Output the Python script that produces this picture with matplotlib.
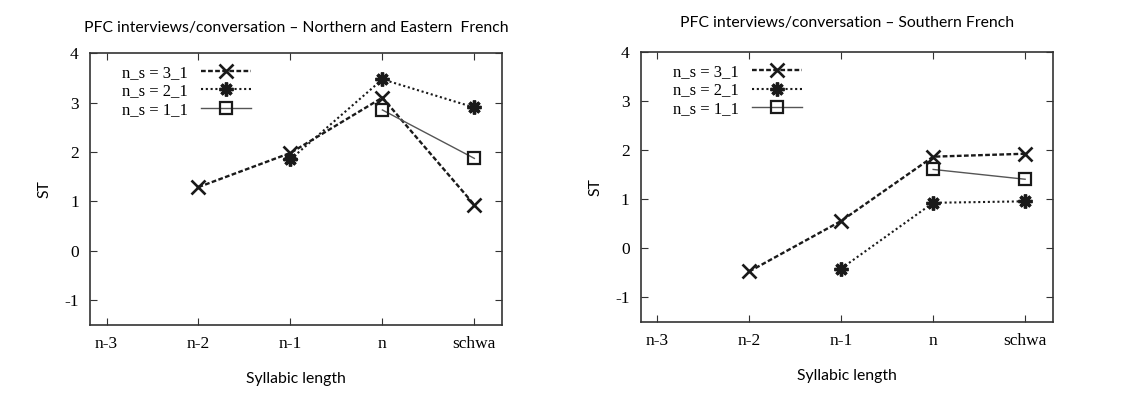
import matplotlib
matplotlib.use("Agg")
import matplotlib.pyplot as plt

# categories on the x axis
syll = ["n-3", "n-2", "n-1", "n", "schwa"]
yticks = [-1, 0, 1, 2, 3, 4]

# Northern and Eastern French
north_31_x = ["n-2", "n-1", "n", "schwa"]
north_31 = [1.29, 1.98, 3.10, 0.93]
north_21_x = ["n-1", "n", "schwa"]
north_21 = [1.85, 3.47, 2.90]
north_11_x = ["n", "schwa"]
north_11 = [2.85, 1.87]

# Southern French
south_31_x = ["n-2", "n-1", "n", "schwa"]
south_31 = [-0.47, 0.56, 1.87, 1.93]
south_21_x = ["n-1", "n", "schwa"]
south_21 = [-0.41, 0.93, 0.96]
south_11_x = ["n", "schwa"]
south_11 = [1.61, 1.41]

titles = ["PFC interviews/conversation \u2013 Northern and Eastern  French",
          "PFC interviews/conversation \u2013 Southern French"]

serif = "Liberation Serif"
sans = "Lato"


def idx(labels):
    return [syll.index(l) for l in labels]


def panel(ax, d31, d21, d11, title, tpad):
    (x31, y31), (x21, y21), (x11, y11) = d31, d21, d11
    ax.plot(idx(x31), y31, color="#1a1a1a", lw=1.7, ls=(0, (2, 1)),
            marker="x", ms=9.5, mew=1.9, label="n_s = 3_1")
    ax.plot(idx(x21), y21, color="#1a1a1a", lw=1.5, ls=(0, (1, 1.3)),
            marker=(8, 2, 0), ms=10, mew=2.4, label="n_s = 2_1")
    ax.plot(idx(x11), y11, color="#555555", lw=1.0, ls="-",
            marker="s", ms=8.5, mew=1.6, mfc="none", mec="#1a1a1a", label="n_s = 1_1")
    ax.set_xlim(-0.18, 4.3)
    ax.set_ylim(-1.5, 4)
    ax.set_xticks(range(len(syll)))
    ax.set_xticklabels(syll, fontfamily=serif, fontsize=12.5)
    ax.set_yticks(yticks)
    ax.set_yticklabels([str(v) for v in yticks], fontfamily=serif, fontsize=12.5)
    ax.tick_params(direction="in", top=True, right=True, length=5, color="#333333", pad=8)
    for s in ax.spines.values():
        s.set_color("#333333")
        s.set_linewidth(1.2)
    ax.set_xlabel("Syllabic length", fontfamily=sans, fontsize=11.3, labelpad=14)
    ax.set_ylabel("ST", fontfamily=sans, fontsize=11.3, labelpad=9)
    ax.set_title(title, fontfamily=sans, fontsize=11.3, pad=tpad)
    ax.legend(loc="upper left", frameon=False, markerfirst=False,
              prop={"family": serif, "size": 12}, handlelength=3.0,
              labelspacing=0.15, borderaxespad=0.3, bbox_to_anchor=(0.05, 1.0))


fig = plt.figure(figsize=(11.3, 4.07), dpi=100)
ax1 = fig.add_axes([0.0796, 0.2015, 0.3646, 0.668])
ax2 = fig.add_axes([0.567, 0.2088, 0.3646, 0.663])

panel(ax1, (north_31_x, north_31), (north_21_x, north_21), (north_11_x, north_11), titles[0], 15)
panel(ax2, (south_31_x, south_31), (south_21_x, south_21), (south_11_x, south_11), titles[1], 18)

fig.savefig("out.png", dpi=100)
